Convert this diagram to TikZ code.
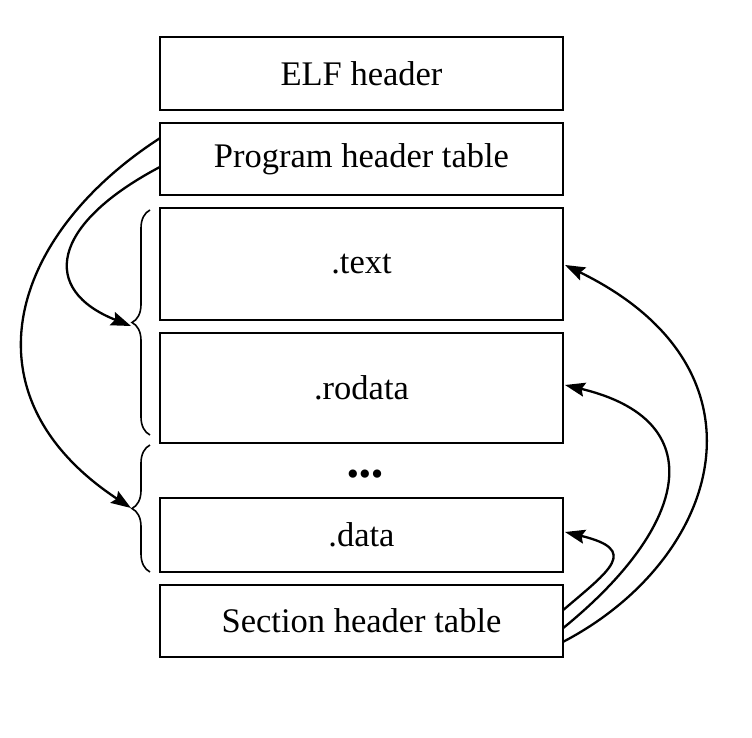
\documentclass[tikz,border=0pt]{standalone}
\usepackage{fontspec}
\setmainfont{Liberation Serif}
\usetikzlibrary{arrows.meta,calc,decorations.pathreplacing}
\tikzset{
  secbox/.style={draw=black, line width=2.8pt, minimum width=403pt, inner sep=0pt, outer sep=0pt, anchor=center, font=\fontsize{34.5}{40}\selectfont},
  link/.style={line width=2.3pt, -{Stealth[length=20pt,width=14pt,inset=3pt,fill=black]}},
  grp/.style={line width=1.6pt, decorate, decoration={brace, amplitude=18pt}}
}
\begin{document}
\begin{tikzpicture}[x=1pt,y=-1pt]
\useasboundingbox[fill=white] (0,0) rectangle (752,738);
\node[secbox, minimum height=73pt] (elf) at (361.5,73.5) {ELF header};
\node[secbox, minimum height=72pt] (pht) at (361.5,159) {Program header table};
\node[secbox, minimum height=112pt] (text) at (361.5,264) {.text};
\node[secbox, minimum height=110pt] (rodata) at (361.5,388) {.rodata};
\node[font=\fontsize{34.5}{40}\selectfont, inner sep=0pt] (dots) at (365,478) {•••};
\node[secbox, minimum height=74pt] (data) at (361.5,535) {.data};
\node[secbox, minimum height=72pt] (sht) at (361.5,621) {Section header table};
% braces
\coordinate (br1a) at (150,435);
\coordinate (br1b) at (150,210);
\coordinate (br2a) at (150,572);
\coordinate (br2b) at (150,445);
\draw[grp] (br1a) -- (br1b);
\draw[grp] (br2a) -- (br2b);
\coordinate (tip1) at (131,326);
\coordinate (tip2) at (131,508);
% left connectors
\draw[link] ($(pht.north west)!0.21!(pht.south west)$) .. controls (10,235) and (-40,395) .. (tip2);
\draw[link] ($(pht.north west)!0.61!(pht.south west)$) .. controls (50,225) and (40,290) .. (tip1);
% right connectors
\draw[link] ($(sht.north east)!0.79!(sht.south east)$) .. controls (720,560) and (780,370) .. ($(text.east)+(2,1)$);
\draw[link] ($(sht.north east)!0.60!(sht.south east)$) .. controls (690,525) and (712,420) .. ($(rodata.east)+(2,-3)$);
\draw[link] ($(sht.north east)!0.35!(sht.south east)$) .. controls (610,570) and (640,550) .. ($(data.east)+(2,-3)$);
\end{tikzpicture}
\end{document}
